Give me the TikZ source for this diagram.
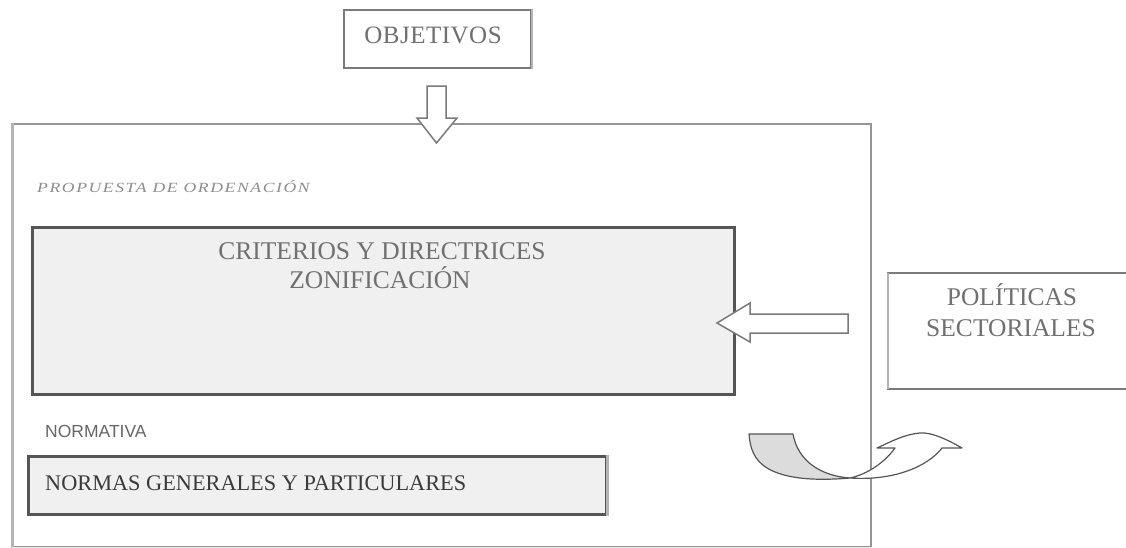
\documentclass[tikz,border=0pt]{standalone}
\usepackage{fontspec}
\setmainfont{Liberation Serif}
\newfontfamily\sansf{Liberation Sans}
\definecolor{bordD}{HTML}{555555}
\definecolor{bordM}{HTML}{7A7A7A}
\definecolor{bordL}{HTML}{B4B4B4}
\definecolor{fillL}{HTML}{F0F0F0}
\definecolor{fillG}{HTML}{DCDCDC}
\definecolor{txtG}{HTML}{707070}
\definecolor{txtD}{HTML}{3A3A3A}
\tikzset{
  darkbox/.style={draw=bordD, fill=fillL, line width=3pt, rectangle, inner sep=0pt, anchor=north west},
  plainbox/.style={draw=bordM, fill=white, line width=2pt, rectangle, inner sep=0pt, anchor=north west},
  blockarrow/.style={draw=bordM, fill=white, line width=1.5pt, line join=miter},
  lbl/.style={inner sep=0pt, anchor=base, text=txtG},
}
\begin{document}
\begin{tikzpicture}[x=1pt,y=-1pt]
\useasboundingbox (0,0) rectangle (1126,547);
% outer frame
\node[draw=bordM!80, line width=2pt, rectangle, inner sep=0pt, anchor=north west,
      minimum width=858pt, minimum height=423pt] (frame) at (12,123) {};
\draw[bordL, line width=3pt] (frame.north west) -- (frame.south west);
\draw[black!8, line width=2pt] (frame.south west) -- (frame.south east);
% objetivos
\node[plainbox, minimum width=187pt, minimum height=58pt] (objbox) at (343,9) {};
\draw[bordL, line width=2pt] (objbox.north east) -- (objbox.south east);
\node[lbl, font=\fontsize{25}{30}\selectfont\addfontfeature{LetterSpace=2}] (objt) at (433,43) {OBJETIVOS};
% down arrow
\coordinate (dtop) at (436.5,86);
\draw[blockarrow] (dtop) ++(-9.5,0) -- ++(19,0) -- ++(0,32) -- ++(11,0) -- (436.5,143) -- (417,118) -- ++(10,0) -- cycle;
% propuesta
\node[inner sep=0pt, anchor=base west, text=black!45,
      font=\fontsize{14}{16}\selectfont\itshape\addfontfeature{LetterSpace=9}] (prop) at (37,192) {\scalebox{1.26}[1]{PROPUESTA DE ORDENACIÓN}};
% criterios box
\node[darkbox, minimum width=702pt, minimum height=167pt] (crit) at (31,226) {};
\node[lbl, font=\fontsize{25.5}{30}\selectfont] (crit1) at (382,259) {CRITERIOS Y DIRECTRICES};
\node[lbl, font=\fontsize{25.5}{30}\selectfont] (crit2) at (380,288) {ZONIFICACIÓN};
% left arrow
\coordinate (ltail) at (848,323.5);
\draw[blockarrow] (ltail) ++(0,-9.5) -- (750,314) -- (750,303) -- (717,323) -- (750,342) -- (750,333) -- (848,333) -- cycle;
% politicas
\coordinate (polnw) at (888,273);
\draw[bordM, line width=2pt] (1130,273) -- (polnw) -- (888,389) -- (1130,389);
\draw[bordL, line width=2pt] (polnw) -- (888,389);
\node[lbl, font=\fontsize{25.5}{30}\selectfont] (pol1) at (1012,305) {POLÍTICAS};
\node[lbl, font=\fontsize{25.5}{30}\selectfont] (pol2) at (1011,336) {SECTORIALES};
% normativa
\node[inner sep=0pt, anchor=base west, text=black!60, font=\sansf\fontsize{17.5}{20}\selectfont] (norm) at (45,437) {NORMATIVA};
\node[darkbox, minimum width=578pt, minimum height=58pt] (normbox) at (27,455) {};
\draw[bordL, line width=3pt] ([xshift=-1pt]normbox.north east) -- ([xshift=-1pt]normbox.south east);
\node[inner sep=0pt, anchor=base west, text=txtD, font=\fontsize{22.3}{27}\selectfont] (normt) at (45,490) {NORMAS GENERALES Y PARTICULARES};
% curved arrow
\coordinate (cstart) at (749,434);
\coordinate (cmid) at (850,478);
\draw[fill=fillG, draw=bordD, line width=1.2pt, line join=round]
  (cstart) -- (793,434) .. controls (798,462) and (822,476) .. (cmid)
  .. controls (815,481) and (785,479) .. (767,468) .. controls (754,460) and (750,448) .. (cstart) -- cycle;
\draw[fill=white, draw=bordD, line width=1.2pt, line join=round]
  (cmid) .. controls (895,481) and (928,466) .. (942,448) -- (962,448)
  .. controls (948,440) and (932,432) .. (920,433) .. controls (905,434) and (890,442) .. (877,448)
  -- (895,448) .. controls (885,462) and (868,474) .. (cmid) -- cycle;
\end{tikzpicture}
\end{document}
